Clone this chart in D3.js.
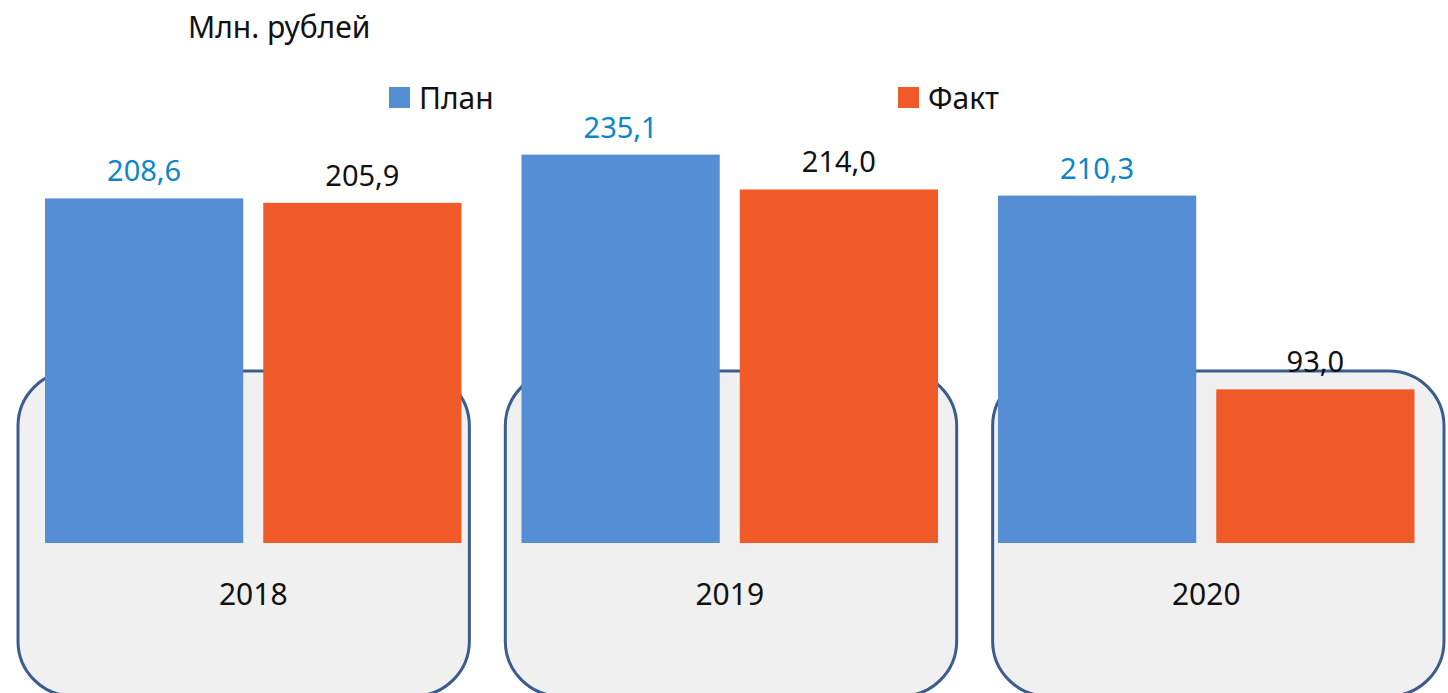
<!DOCTYPE html>
<html>
<head>
<meta charset="utf-8">
<script src="https://cdn.jsdelivr.net/npm/d3@7"></script>
<style>
  body { margin: 0; background: #fff; }
  svg text { font-family: "Noto Sans", sans-serif; }
</style>
</head>
<body>
<div id="chart"></div>
<script>
var years = ['2018', '2019', '2020'];
var seriesNames = ['План', 'Факт'];
var planValues = [208.6, 235.1, 210.3];
var factValues = [205.9, 214.0, 93.0];
var unitLabel = 'Млн. рублей';

var width = 1448, height = 693;
var colors = { 'План': '#558ed5', 'Факт': '#f05a28' };
var labelColors = { 'План': '#0a86c9', 'Факт': '#111' };

var svg = d3.select('#chart').append('svg')
    .attr('width', width)
    .attr('height', height);

var rows = years.map(function(y, i) {
  return { year: y, values: [
    { name: 'План', value: planValues[i] },
    { name: 'Факт', value: factValues[i] }
  ] };
});

// group scale for bars
var x0 = d3.scaleBand().domain(years).range([15, 1444.5])
    .paddingInner(60 / 476.5).paddingOuter(30 / 476.5);
var x1 = d3.scaleBand().domain(seriesNames).range([0, x0.bandwidth()])
    .paddingInner(20 / 218);
// background boxes sit on a slightly wider grid
var xb = d3.scaleBand().domain(years).range([18, 1444]).paddingInner(36 / 488);
var y = d3.scaleLinear().domain([0, 250]).range([543, 130]);

svg.append('g').selectAll('rect')
    .data(years)
  .enter().append('rect')
    .attr('x', function(d) { return xb(d); })
    .attr('y', 371)
    .attr('width', xb.bandwidth())
    .attr('height', 325)
    .attr('rx', 55)
    .attr('ry', 55)
    .style('fill', '#f0f0f0')
    .style('stroke', '#3a5c8e')
    .style('stroke-width', 3);

var groups = svg.append('g').selectAll('g')
    .data(rows)
  .enter().append('g')
    .attr('transform', function(d) { return 'translate(' + x0(d.year) + ',0)'; });

groups.selectAll('rect')
    .data(function(d) { return d.values; })
  .enter().append('rect')
    .attr('x', function(d) { return x1(d.name); })
    .attr('y', function(d) { return y(d.value); })
    .attr('width', x1.bandwidth())
    .attr('height', function(d) { return y(0) - y(d.value); })
    .style('fill', function(d) { return colors[d.name]; });

groups.selectAll('text.val')
    .data(function(d) { return d.values; })
  .enter().append('text')
    .attr('class', 'val')
    .attr('x', function(d) { return x1(d.name) + x1.bandwidth() / 2; })
    .attr('y', function(d) { return y(d.value) - 17; })
    .attr('text-anchor', 'middle')
    .style('font-size', '29px')
    .style('fill', function(d) { return labelColors[d.name]; })
    .text(function(d) { return d.value.toFixed(1).replace('.', ','); });

groups.append('text')
    .attr('x', x0.bandwidth() / 2)
    .attr('y', 605)
    .attr('text-anchor', 'middle')
    .style('font-size', '30px')
    .style('fill', '#111')
    .text(function(d) { return d.year; });

svg.append('text')
    .attr('x', 188)
    .attr('y', 38)
    .style('font-size', '30px')
    .style('fill', '#111')
    .text(unitLabel);

var legendX = { 'План': 389, 'Факт': 898 };
var legend = svg.append('g').selectAll('g')
    .data(seriesNames)
  .enter().append('g')
    .attr('transform', function(d) { return 'translate(' + legendX[d] + ',87)'; });
legend.append('rect')
    .attr('width', 21).attr('height', 21)
    .style('fill', function(d) { return colors[d]; });
legend.append('text')
    .attr('x', 30).attr('y', 22)
    .style('font-size', '30px')
    .style('fill', '#111')
    .text(function(d) { return d; });
</script>
</body>
</html>
